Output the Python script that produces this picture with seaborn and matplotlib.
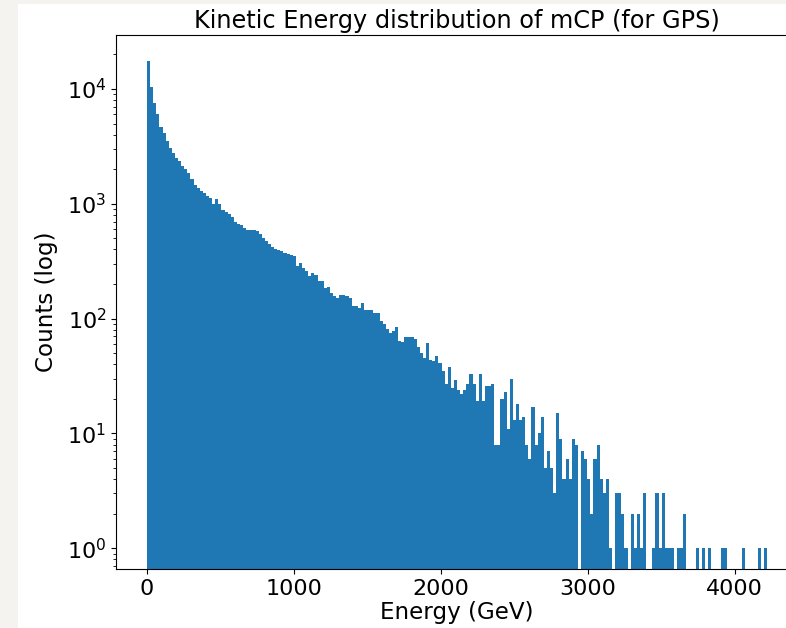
import numpy as np
import pandas as pd
import matplotlib
matplotlib.use("Agg")
import matplotlib.pyplot as plt
from matplotlib.patches import Rectangle
import seaborn as sns

# ---- data ----
E_MIN = 0.0
E_MAX = 4220.0
N_BINS = 200

counts = [
    17400, 10500, 7600, 6000, 4650, 4150, 3510, 3070, 2750, 2500,
    2350, 2150, 2000, 1850, 1650, 1450, 1360, 1300, 1245, 1165,
    1125, 990, 1090, 1000, 880, 840, 810, 760, 700, 670,
    650, 610, 590, 590, 588, 577, 545, 505, 470, 448,
    420, 405, 392, 387, 375, 365, 355, 349, 286, 306,
    276, 260, 234, 250, 240, 212, 212, 185, 187, 167,
    157, 151, 162, 160, 157, 151, 130, 130, 124, 137,
    120, 120, 120, 112, 112, 95, 90, 82, 75, 78,
    84, 64, 63, 69, 69, 69, 67, 57, 50, 45,
    61, 44, 43, 47, 41, 35, 27, 38, 25, 29,
    24, 22, 24, 27, 33, 27, 19, 33, 19, 26,
    26, 27, 8, 8, 20, 23, 11, 30, 13, 18,
    13, 14, 8, 6, 17, 8, 10, 14, 5, 7,
    5, 3, 15, 9, 4, 6, 4, 9, 8, 0,
    7, 6, 4, 2, 6, 8, 4, 3, 4, 1,
    0, 3, 3, 2, 1, 0, 2, 1, 2, 1,
    3, 0, 0, 1, 3, 1, 3, 1, 1, 1,
    0, 1, 1, 2, 0, 0, 0, 1, 0, 1,
    0, 1, 0, 0, 0, 1, 1, 0, 0, 0,
    0, 0, 1, 0, 0, 0, 0, 1, 0, 1,
]

title = "Kinetic Energy distribution of mCP (for GPS)"
xlabel = "Energy (GeV)"
ylabel = "Counts (log)"
xticks = [0, 1000, 2000, 3000, 4000]

edges = np.linspace(E_MIN, E_MAX, N_BINS + 1)
centers = 0.5 * (edges[:-1] + edges[1:])
df = pd.DataFrame({"energy": centers, "count": np.asarray(counts, dtype=float)})

# ---- figure ----
fig = plt.figure(figsize=(7.86, 6.28), dpi=100)
fig.patch.set_facecolor("white")
# light border of the screenshot
fig.add_artist(Rectangle((0, 0), 18 / 786, 1, transform=fig.transFigure,
                         facecolor="#f4f3ef", edgecolor="none", zorder=-1))
fig.add_artist(Rectangle((0, 1 - 4 / 628), 1, 4 / 628, transform=fig.transFigure,
                         facecolor="#f4f3ef", edgecolor="none", zorder=-1))

ax = fig.add_axes([116 / 786, (628 - 569) / 628, 682 / 786, 534 / 628])

sns.histplot(data=df, x="energy", weights="count", bins=N_BINS,
             binrange=(E_MIN, E_MAX), color="#1f77b4", element="step",
             fill=True, alpha=1.0, linewidth=0, ax=ax)
ax.set_yscale("log")
ax.set_xlim(-211, 4431)
ax.set_ylim(0.66, 29500)
ax.set_xticks(xticks)

fs = 16
ax.set_title(title, fontsize=17.3, pad=5)
ax.set_xlabel(xlabel, fontsize=16.6, labelpad=1.5)
ax.set_ylabel(ylabel, fontsize=16.6, labelpad=6)
ax.tick_params(axis="both", labelsize=fs)

fig.savefig("out.png", dpi=100)
